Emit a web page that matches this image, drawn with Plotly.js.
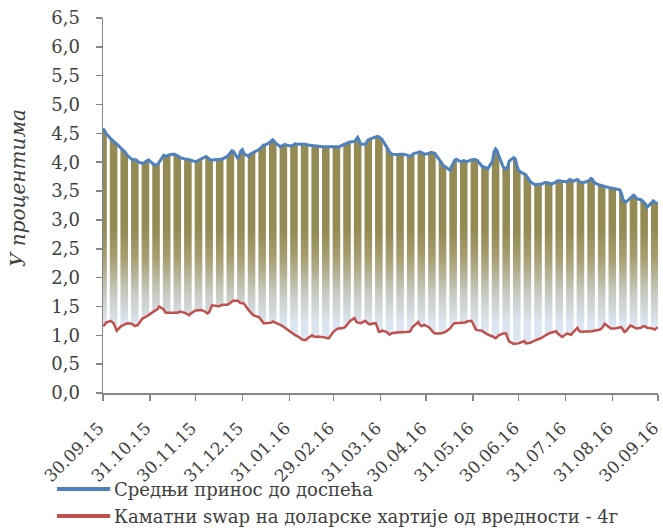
<!DOCTYPE html>
<html>
<head>
<meta charset="utf-8">
<script src="https://cdn.plot.ly/plotly-3.0.1.min.js"></script>
<style>html,body{margin:0;padding:0;background:#fff;}#chart{width:663px;height:529px;}</style>
</head>
<body>
<div id="chart"></div>
<script>
// Series names
const seriesNames = ['Средњи принос до доспећа', 'Каматни swap на доларске хартије од вредности - 4г'];
const seriesColors = ['#4F81BD', '#C0504D'];
// Business-day series, 30.09.2015 – 30.09.2016 (one row per week)
const yieldAvg = [
  4.59,4.55,4.50,
  4.41,4.39,4.37,4.35,4.32,
  4.24,4.22,4.19,4.16,4.12,
  4.05,4.05,4.04,4.04,4.01,
  3.98,3.99,4.01,4.03,4.04,
  3.97,3.96,3.95,3.96,4.00,
  4.12,4.11,4.10,4.12,4.13,
  4.14,4.13,4.12,4.10,4.08,
  4.05,4.05,4.05,4.04,4.03,
  4.01,4.02,4.03,4.04,4.06,
  4.10,4.08,4.05,4.04,4.04,
  4.04,4.04,4.05,4.05,4.06,
  4.10,4.13,4.16,4.20,4.19,
  4.06,4.12,4.20,4.22,4.15,
  4.10,4.14,4.15,4.17,4.18,
  4.22,4.25,4.28,4.30,4.30,
  4.34,4.37,4.39,4.36,4.33,
  4.27,4.28,4.30,4.31,4.30,
  4.28,4.29,4.31,4.32,4.31,
  4.31,4.31,4.32,4.31,4.30,
  4.29,4.28,4.28,4.28,4.27,
  4.27,4.27,4.27,4.28,4.28,
  4.27,4.27,4.27,4.27,4.27,
  4.31,4.32,4.33,4.34,4.35,
  4.36,4.40,4.43,4.38,4.31,
  4.31,4.35,4.39,4.40,4.41,
  4.44,4.45,4.44,4.42,4.40,
  4.27,4.22,4.18,4.15,4.14,
  4.13,4.14,4.14,4.14,4.14,
  4.12,4.10,4.11,4.13,4.15,
  4.17,4.18,4.17,4.15,4.14,
  4.15,4.17,4.17,4.16,4.15,
  4.04,4.00,3.97,3.93,3.92,
  3.86,3.93,3.98,4.03,4.05,
  4.01,4.02,4.03,4.02,4.01,
  4.04,4.05,4.05,4.04,4.03,
  3.93,3.92,3.90,3.89,3.89,
  4.02,4.18,4.23,4.20,4.12,
  3.92,3.89,3.88,3.92,4.02,
  4.08,4.06,3.95,3.87,3.84,
  3.79,3.78,3.74,3.70,3.66,
  3.61,3.62,3.62,3.62,3.62,
  3.65,3.65,3.64,3.63,3.62,
  3.66,3.68,3.68,3.67,3.67,
  3.66,3.68,3.70,3.69,3.67,
  3.70,3.67,3.65,3.65,3.65,
  3.67,3.69,3.72,3.70,3.65,
  3.61,3.60,3.59,3.58,3.58,
  3.56,3.56,3.55,3.54,3.54,
  3.52,3.46,3.36,3.32,3.31,
  3.39,3.41,3.43,3.41,3.37,
  3.35,3.33,3.30,3.27,3.22,
  3.30,3.33,3.31,3.29,3.28
];
const swap4y = [
  1.16,1.18,1.22,
  1.25,1.23,1.21,1.15,1.08,
  1.16,1.17,1.19,1.20,1.21,
  1.20,1.18,1.16,1.17,1.18,
  1.29,1.30,1.32,1.33,1.35,
  1.41,1.42,1.44,1.45,1.50,
  1.45,1.40,1.39,1.39,1.39,
  1.38,1.38,1.39,1.40,1.41,
  1.39,1.38,1.37,1.35,1.38,
  1.43,1.43,1.43,1.44,1.44,
  1.40,1.38,1.40,1.45,1.52,
  1.51,1.50,1.51,1.52,1.53,
  1.53,1.54,1.56,1.58,1.60,
  1.60,1.57,1.56,1.55,1.55,
  1.44,1.41,1.38,1.35,1.34,
  1.31,1.28,1.24,1.21,1.21,
  1.21,1.22,1.24,1.23,1.22,
  1.19,1.17,1.15,1.13,1.12,
  1.06,1.04,1.02,1.00,0.99,
  0.94,0.92,0.92,0.92,0.95,
  1.00,0.98,0.97,0.97,0.98,
  0.97,0.97,0.96,0.95,0.95,
  1.06,1.08,1.10,1.12,1.12,
  1.13,1.15,1.18,1.21,1.25,
  1.30,1.24,1.22,1.21,1.21,
  1.25,1.22,1.20,1.19,1.20,
  1.21,1.15,1.06,1.06,1.08,
  1.06,1.03,1.01,1.03,1.04,
  1.05,1.05,1.05,1.05,1.06,
  1.06,1.06,1.08,1.14,1.16,
  1.23,1.18,1.16,1.17,1.18,
  1.14,1.10,1.08,1.05,1.03,
  1.03,1.03,1.04,1.05,1.06,
  1.12,1.16,1.19,1.21,1.21,
  1.21,1.21,1.22,1.22,1.24,
  1.25,1.21,1.16,1.10,1.09,
  1.08,1.06,1.04,1.03,1.01,
  0.98,0.97,0.95,0.97,1.00,
  1.03,1.03,1.03,0.95,0.89,
  0.85,0.85,0.86,0.86,0.87,
  0.90,0.86,0.86,0.87,0.87,
  0.91,0.92,0.93,0.94,0.95,
  1.00,1.02,1.03,1.04,1.05,
  1.07,1.03,1.01,0.99,0.97,
  1.03,1.02,1.01,1.01,1.05,
  1.13,1.08,1.06,1.06,1.06,
  1.06,1.06,1.06,1.07,1.08,
  1.09,1.10,1.12,1.15,1.20,
  1.14,1.12,1.12,1.12,1.12,
  1.14,1.14,1.10,1.06,1.07,
  1.17,1.16,1.14,1.13,1.12,
  1.13,1.15,1.16,1.15,1.13,
  1.12,1.11,1.10,1.12,1.14
];
// Axis tick dates (month ends) and labels
const tickDates = ['2015-09-30','2015-10-31','2015-11-30','2015-12-31','2016-01-31','2016-02-29','2016-03-31','2016-04-30','2016-05-31','2016-06-30','2016-07-31','2016-08-31','2016-09-30'];
const tickLabels = ['30.09.15','31.10.15','30.11.15','31.12.15','31.01.16','29.02.16','31.03.16','30.04.16','31.05.16','30.06.16','31.07.16','31.08.16','30.09.16'];
const yTicks = [0,0.5,1,1.5,2,2.5,3,3.5,4,4.5,5,5.5,6,6.5];
const yTitle = 'У процентима';

// business days in the period
const DAY = 86400000;
const startMs = Date.UTC(2015,8,30), endMs = Date.UTC(2016,8,30);
const dayMs = [];
for (let t = startMs; t <= endMs; t += DAY) {
  const wd = new Date(t).getUTCDay();
  if (wd !== 0 && wd !== 6) dayMs.push(t);
}
function fmt(t) {
  const d = new Date(t);
  const p = n => String(n).padStart(2,'0');
  return d.getUTCFullYear()+'-'+p(d.getUTCMonth()+1)+'-'+p(d.getUTCDate())+' '+p(d.getUTCHours())+':'+p(d.getUTCMinutes());
}
const n = Math.min(dayMs.length, yieldAvg.length, swap4y.length);
const lineX = dayMs.slice(0,n).map(fmt);

// up/down bars: contiguous weekday blocks filled between the two series
const px = [], py = [];
let i = 0;
while (i < n) {
  let j = i;
  while (j + 1 < n && dayMs[j+1] - dayMs[j] === DAY) j++;
  const topX = [], topY = [], botX = [], botY = [];
  for (let k = i; k <= j; k++) {
    topX.push(fmt(dayMs[k] - DAY/2), fmt(dayMs[k] + DAY/2));
    topY.push(yieldAvg[k], yieldAvg[k]);
    botX.push(fmt(dayMs[k] - DAY/2), fmt(dayMs[k] + DAY/2));
    botY.push(swap4y[k], swap4y[k]);
  }
  px.push(...topX, ...botX.reverse(), null);
  py.push(...topY, ...botY.reverse(), null);
  i = j + 1;
}

const txt = '#404040';
const fontFam = 'DejaVu Serif';
const traces = [
  {
    x: px, y: py, type: 'scatter', mode: 'none', fill: 'toself',
    fillgradient: {type: 'vertical', start: 1.2, stop: 2.85,
      colorscale: [[0,'rgb(220,230,242)'],[0.3,'rgb(200,204,196)'],[0.7,'rgb(166,158,112)'],[1,'rgb(148,138,84)']]},
    connectgaps: false, showlegend: false, hoverinfo: 'skip'
  },
  {
    x: lineX, y: swap4y.slice(0,n), type: 'scatter', mode: 'lines', name: seriesNames[1],
    line: {color: seriesColors[1], width: 2.5}, showlegend: false
  },
  {
    x: lineX, y: yieldAvg.slice(0,n), type: 'scatter', mode: 'lines', name: seriesNames[0],
    line: {color: seriesColors[0], width: 3}, showlegend: false
  }
];

// legend drawn below the plot (paper coordinates)
const legendY = [-0.256, -0.328];
const shapes = legendY.map((y, k) => ({
  type: 'line', xref: 'paper', yref: 'paper', x0: -0.083, x1: 0.013, y0: y, y1: y,
  line: {color: seriesColors[k], width: 4}
}));
const annotations = legendY.map((y, k) => ({
  text: seriesNames[k], xref: 'paper', yref: 'paper', x: 0.016, y: y,
  xanchor: 'left', yanchor: 'middle', showarrow: false,
  font: {family: fontFam, size: 18, color: txt}
}));
annotations.push({
  text: '<i>' + yTitle + '</i>', xref: 'paper', yref: 'paper', x: -0.153, y: 0.547,
  xanchor: 'center', yanchor: 'middle', textangle: -90, showarrow: false,
  font: {family: fontFam, size: 20, color: txt}
});

const layout = {
  width: 663, height: 529,
  margin: {l: 103, r: 5, t: 18, b: 136},
  paper_bgcolor: '#fff', plot_bgcolor: '#fff',
  separators: ',.',
  font: {family: fontFam, size: 18, color: txt},
  showlegend: false,
  xaxis: {
    type: 'date', range: ['2015-09-30', '2016-09-30 04:00'],
    tickmode: 'array', tickvals: tickDates, ticktext: tickLabels, tickangle: -45,
    ticklabeloverflow: 'allow', ticklabelstandoff: 11, ticklabelshift: -4,
    showgrid: false, zeroline: false, showline: true, linecolor: '#868686', linewidth: 1.5,
    ticks: 'outside', ticklen: 6, tickcolor: '#868686', tickwidth: 1.5,
    tickfont: {family: fontFam, size: 17, color: txt}
  },
  yaxis: {
    range: [0, 6.5], tickmode: 'array', tickvals: yTicks, tickformat: '.1f',
    ticklabelstandoff: 12,
    showgrid: false, zeroline: false, showline: true, linecolor: '#868686', linewidth: 1.5,
    ticks: 'outside', ticklen: 6, tickcolor: '#868686', tickwidth: 1.5,
    tickfont: {family: fontFam, size: 18, color: txt}
  },
  shapes: shapes,
  annotations: annotations
};

Plotly.newPlot('chart', traces, layout, {displayModeBar: false, staticPlot: true});
</script>
</body>
</html>
